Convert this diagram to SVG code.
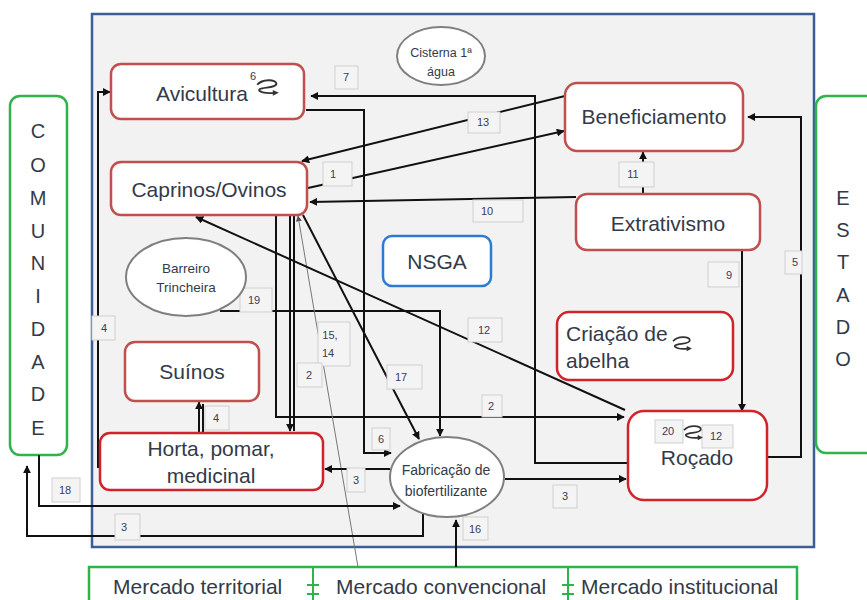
<svg xmlns="http://www.w3.org/2000/svg" width="867" height="600" viewBox="0 0 867 600">
<defs>
<style>
text{font-family:"Liberation Sans",Arial,sans-serif;fill:#333a48}
.big{font-size:21px}
.let{font-size:20px;text-anchor:middle}
.mid{text-anchor:middle}
.mk{font-size:21px}
.lbl{font-size:11px;text-anchor:middle;fill:#3c3c55}
.lb{fill:#f4f4f4;stroke:#cfcfcf;stroke-width:1}
.n1{fill:#fff;stroke:#c0504d;stroke-width:2.5}
.n2{fill:#fff;stroke:#d0232a;stroke-width:2.5}
.ell{fill:#fff;stroke:#7f7f7f;stroke-width:2}
.grn{fill:#fff;stroke:#2fb34a;stroke-width:2.5}
.c{fill:none;stroke:#111;stroke-width:2;marker-end:url(#ah)}
.cn{fill:none;stroke:#111;stroke-width:2}
.cg{fill:none;stroke:#777;stroke-width:1;marker-end:url(#ahg)}
.loop{fill:none;stroke:#333;stroke-width:1.6}
</style>
<marker id="ah" viewBox="0 0 10 10" refX="9" refY="5" markerWidth="4" markerHeight="4" orient="auto"><path d="M0,0 L10,5 L0,10 z" fill="#111"/></marker>
<marker id="ahg" viewBox="0 0 10 10" refX="9" refY="5" markerWidth="6" markerHeight="6" orient="auto"><path d="M0,0 L10,5 L0,10 z" fill="#555"/></marker>
<g id="lp">
<path class="loop" d="M1,5 C5,0 17,0 17,4 C17,8 6,7 3,9 C1,11 8,13 15,12"/>
<path d="M14,9.5 L19,12 L14,14.5 z" fill="#333"/>
</g>
</defs>
<rect width="867" height="600" fill="#fff"/>
<rect id="frame" x="92" y="14" width="722" height="533" fill="#f2f2f2" stroke="#3d5e94" stroke-width="2.5"/>

<g id="comunidade">
<rect class="grn" x="10" y="96" width="57" height="359" rx="10"/>
<text class="let" x="38" y="138">C</text><text class="let" x="38" y="172">O</text><text class="let" x="38" y="205">M</text><text class="let" x="38" y="238">U</text><text class="let" x="38" y="270">N</text><text class="let" x="38" y="303">I</text><text class="let" x="38" y="336">D</text><text class="let" x="38" y="369">A</text><text class="let" x="38" y="401">D</text><text class="let" x="38" y="435">E</text>
</g>
<g id="estado">
<rect class="grn" x="816" y="96" width="62" height="357" rx="10"/>
<text class="let" x="843" y="205">E</text><text class="let" x="843" y="237">S</text><text class="let" x="843" y="269">T</text><text class="let" x="843" y="302">A</text><text class="let" x="843" y="334">D</text><text class="let" x="843" y="366">O</text>
</g>
<g id="mercados">
<rect x="89" y="567" width="708" height="50" fill="#fff" stroke="#2fb34a" stroke-width="2.5"/>
<text class="mk" x="113" y="594">Mercado territorial</text>
<text class="mk" x="336" y="594">Mercado convencional</text>
<text class="mk" x="581" y="594">Mercado institucional</text>
<path d="M313,567 V600 M307,585 H319 M307,594 H319 M568,567 V600 M562,585 H574 M562,594 H574" stroke="#2fb34a" stroke-width="2" fill="none"/>
</g>

<g id="connectors">
<path class="c" d="M565,96 L302,161"/>
<path class="c" d="M308,188 L564,131"/>
<path class="c" d="M576,197 L310,202"/>
<path class="c" d="M628,463 L535,463 L535,96 L311,96"/>
<path class="c" d="M306,110 L364,110 L364,453 L391,453"/>
<path class="c" d="M100,467 L98,467 L98,92 L110,92"/>
<path class="c" d="M199,432 L199,402"/>
<path class="cn" d="M203,432 L203,404"/>
<path class="c" d="M220,311 L440,311 L440,436"/>
<path class="c" d="M276,215 L276,417 L624,417"/>
<path class="c" d="M290,215 L290,431"/>
<path class="cn" d="M294,215 L294,431"/>
<path class="cg" d="M358,567 L298,216"/>
<path class="c" d="M303,215 L419,439"/>
<path class="c" d="M625,410 L196,217"/>
<path class="c" d="M643,193 L643,152"/>
<path class="c" d="M742,250 L742,411"/>
<path class="c" d="M767,457 L801,457 L801,117 L748,117"/>
<path class="c" d="M390,469 L325,469"/>
<path class="c" d="M505,479 L626,479"/>
<path class="c" d="M39,455 L39,506 L400,506"/>
<path class="c" d="M423,514 L423,536 L27,536 L27,466"/>
<path class="c" d="M456,567 L456,520"/>
</g>

<g id="labels">
<rect class="lb" x="335" y="66" width="23" height="23"/><text class="lbl" x="346" y="81">7</text>
<rect class="lb" x="468" y="112" width="32" height="21"/><text class="lbl" x="483" y="126">13</text>
<rect class="lb" x="323" y="162" width="29" height="24"/><text class="lbl" x="333" y="178">1</text>
<rect class="lb" x="473" y="200" width="50" height="22"/><text class="lbl" x="487" y="215">10</text>
<rect class="lb" x="619" y="162" width="35" height="25"/><text class="lbl" x="633" y="178">11</text>
<rect class="lb" x="708" y="262" width="31" height="25"/><text class="lbl" x="729" y="279">9</text>
<rect class="lb" x="785" y="251" width="17" height="23"/><text class="lbl" x="795" y="266">5</text>
<rect class="lb" x="240" y="288" width="32" height="24"/><text class="lbl" x="254" y="304">19</text>
<rect class="lb" x="92" y="316" width="23" height="24"/><text class="lbl" x="104" y="332">4</text>
<rect class="lb" x="318" y="322" width="32" height="44"/><text class="lbl" x="330" y="339">15,</text><text class="lbl" x="328" y="357">14</text>
<rect class="lb" x="297" y="363" width="25" height="24"/><text class="lbl" x="309" y="379">2</text>
<rect class="lb" x="387" y="365" width="35" height="24"/><text class="lbl" x="401" y="381">17</text>
<rect class="lb" x="205" y="406" width="24" height="24"/><text class="lbl" x="216" y="422">4</text>
<rect class="lb" x="468" y="318" width="34" height="24"/><text class="lbl" x="484" y="334">12</text>
<rect class="lb" x="693" y="332" width="25" height="23"/><text class="lbl" x="704" y="347">8</text>
<rect class="lb" x="482" y="395" width="20" height="22"/><text class="lbl" x="491" y="410">2</text>
<rect class="lb" x="372" y="428" width="18" height="22"/><text class="lbl" x="381" y="443">6</text>
<rect class="lb" x="347" y="468" width="18" height="24"/><text class="lbl" x="356" y="484">3</text>
<rect class="lb" x="52" y="478" width="28" height="24"/><text class="lbl" x="65" y="494">18</text>
<rect class="lb" x="115" y="514" width="25" height="26"/><text class="lbl" x="124" y="531">3</text>
<rect class="lb" x="553" y="485" width="24" height="23"/><text class="lbl" x="565" y="500">3</text>
<rect class="lb" x="463" y="517" width="25" height="23"/><text class="lbl" x="475" y="533">16</text>
</g>

<g id="avicultura">
<rect class="n1" x="111" y="64" width="193" height="55" rx="10"/>
<text class="big mid" x="202" y="101">Avicultura</text>
<text x="250" y="80" font-size="11">6</text>
<use href="#lp" transform="translate(256,79) scale(1.2,1.15)"/>
</g>
<g id="caprinos">
<rect class="n1" x="111" y="162" width="196" height="53" rx="10"/>
<text class="big mid" x="209" y="197">Caprinos/Ovinos</text>
</g>
<g id="beneficiamento">
<rect class="n1" x="565" y="83" width="178" height="68" rx="12"/>
<text class="big mid" x="654" y="124">Beneficiamento</text>
</g>
<g id="extrativismo">
<rect class="n1" x="576" y="194" width="184" height="56" rx="11"/>
<text class="big mid" x="668" y="231">Extrativismo</text>
</g>
<g id="cisterna">
<ellipse class="ell" cx="441" cy="56" rx="44" ry="29"/>
<text class="mid" x="441" y="57" font-size="12.5">Cisterna 1ª</text>
<text class="mid" x="441" y="76" font-size="12.5">água</text>
</g>
<g id="nsga">
<rect x="383" y="236" width="108" height="50" rx="9" fill="#fff" stroke="#2d7bd1" stroke-width="2.5"/>
<text class="big mid" x="437" y="269">NSGA</text>
</g>
<g id="barreiro">
<ellipse class="ell" cx="186" cy="277" rx="60" ry="39"/>
<text class="mid" x="186" y="273" font-size="13.5">Barreiro</text>
<text class="mid" x="186" y="292" font-size="13.5">Trincheira</text>
</g>
<g id="suinos">
<rect class="n1" x="125" y="342" width="134" height="59" rx="10"/>
<text class="big mid" x="192" y="379">Suínos</text>
</g>
<g id="abelha">
<rect class="n2" x="557" y="312" width="176" height="68" rx="12"/>
<text class="big" x="566" y="341">Criação de</text>
<text class="big" x="566" y="368">abelha</text>
<use href="#lp" transform="translate(672,336) scale(1.05,1.05)"/>
</g>
<g id="horta">
<rect class="n2" x="100" y="433" width="223" height="57" rx="10"/>
<text class="big mid" x="211" y="456">Horta, pomar,</text>
<text class="big mid" x="211" y="483">medicinal</text>
</g>
<g id="rocado">
<rect class="n2" x="628" y="411" width="139" height="89" rx="16"/>
<text class="big mid" x="697" y="465">Roçado</text>
<rect class="lb" x="655" y="420" width="28" height="23"/><text class="lbl" x="668" y="435">20</text>
<rect class="lb" x="702" y="425" width="31" height="23"/><text class="lbl" x="716" y="440">12</text>
<use href="#lp" transform="translate(683,425) scale(1.05,1.05)"/>
</g>
<g id="fabricacao">
<ellipse class="ell" cx="447" cy="477" rx="57" ry="40"/>
<text class="mid" x="446" y="475" font-size="14">Fabricação de</text>
<text class="mid" x="446" y="496" font-size="14">biofertilizante</text>
</g>
</svg>
